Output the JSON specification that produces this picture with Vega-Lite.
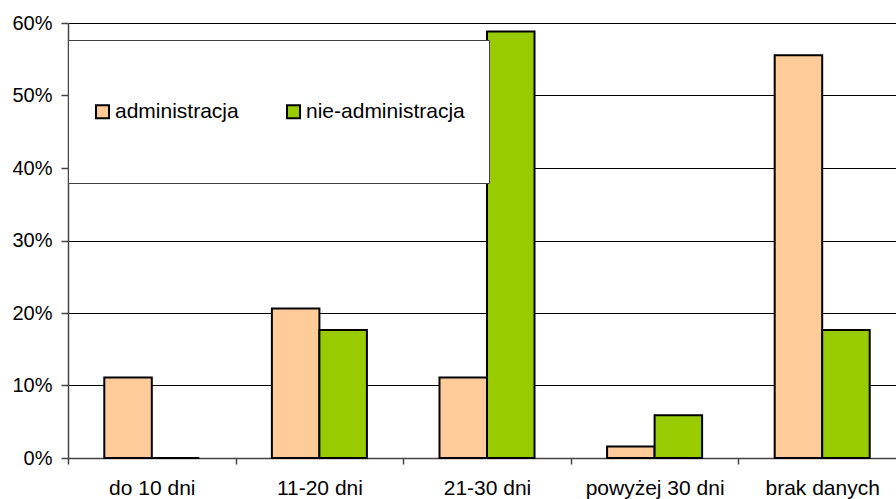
{
  "$schema": "https://vega.github.io/schema/vega-lite/v6.json",
  "width": 828,
  "height": 435,
  "autosize": {"type": "none"},
  "padding": {"left": 68, "top": 23, "right": 0, "bottom": 41},
  "background": "white",
  "data": {
    "values": [
      {"okres": "do 10 dni", "grupa": "administracja", "wartosc": 0.1111},
      {"okres": "do 10 dni", "grupa": "nie-administracja", "wartosc": 0},
      {"okres": "11-20 dni", "grupa": "administracja", "wartosc": 0.2063},
      {"okres": "11-20 dni", "grupa": "nie-administracja", "wartosc": 0.1765},
      {"okres": "21-30 dni", "grupa": "administracja", "wartosc": 0.1111},
      {"okres": "21-30 dni", "grupa": "nie-administracja", "wartosc": 0.5882},
      {"okres": "powyżej 30 dni", "grupa": "administracja", "wartosc": 0.0159},
      {"okres": "powyżej 30 dni", "grupa": "nie-administracja", "wartosc": 0.0588},
      {"okres": "brak danych", "grupa": "administracja", "wartosc": 0.5556},
      {"okres": "brak danych", "grupa": "nie-administracja", "wartosc": 0.1765}
    ]
  },
  "mark": {"type": "bar", "stroke": "black", "strokeWidth": 2},
  "encoding": {
    "x": {
      "field": "okres",
      "type": "nominal",
      "sort": ["do 10 dni", "11-20 dni", "21-30 dni", "powyżej 30 dni", "brak danych"],
      "scale": {"range": [0, 838], "paddingInner": 0, "paddingOuter": 0},
      "axis": {
        "title": null,
        "labelAngle": 0,
        "tickBand": "extent",
        "tickSize": 6,
        "labelPadding": 13,
        "labelFontSize": 21,
        "labelFont": "Liberation Sans",
        "labelColor": "black",
        "domainColor": "#444",
        "domainWidth": 1.5,
        "tickColor": "#444",
        "tickWidth": 1.5
      }
    },
    "xOffset": {
      "field": "grupa",
      "type": "nominal",
      "sort": ["administracja", "nie-administracja"],
      "scale": {"paddingInner": 0, "paddingOuter": 0.764}
    },
    "y": {
      "field": "wartosc",
      "type": "quantitative",
      "scale": {"domain": [0, 0.6], "nice": false},
      "axis": {
        "title": null,
        "format": ".0%",
        "values": [0, 0.1, 0.2, 0.3, 0.4, 0.5, 0.6],
        "grid": true,
        "gridColor": "black",
        "gridWidth": 1,
        "tickSize": 7,
        "labelPadding": 9,
        "labelFontSize": 20,
        "labelFont": "Liberation Sans",
        "labelColor": "black",
        "domainColor": "#444",
        "domainWidth": 1.5,
        "tickColor": "#444",
        "tickWidth": 1.5
      }
    },
    "color": {
      "field": "grupa",
      "type": "nominal",
      "scale": {"domain": ["administracja", "nie-administracja"], "range": ["#FFCC99", "#99CC00"]},
      "legend": {
        "title": null,
        "orient": "none",
        "legendX": 0,
        "legendY": 17,
        "direction": "horizontal",
        "symbolType": "M-1,4.692H1V6.692H-1Z",
        "symbolSize": 169,
        "symbolStrokeColor": "black",
        "symbolStrokeWidth": 2,
        "symbolOpacity": 1,
        "labelFontSize": 21,
        "labelFont": "Liberation Sans",
        "labelColor": "black",
        "labelOffset": 2,
        "labelLimit": 400,
        "columnPadding": 44,
        "padding": 24,
        "fillColor": "white",
        "strokeColor": "#444",
        "labelExpr": "['', datum.label, '']",
        "encode": {"labels": {"update": {"lineHeight": {"value": 37}}}}
      }
    }
  },
  "config": {"view": {"stroke": null}}
}
